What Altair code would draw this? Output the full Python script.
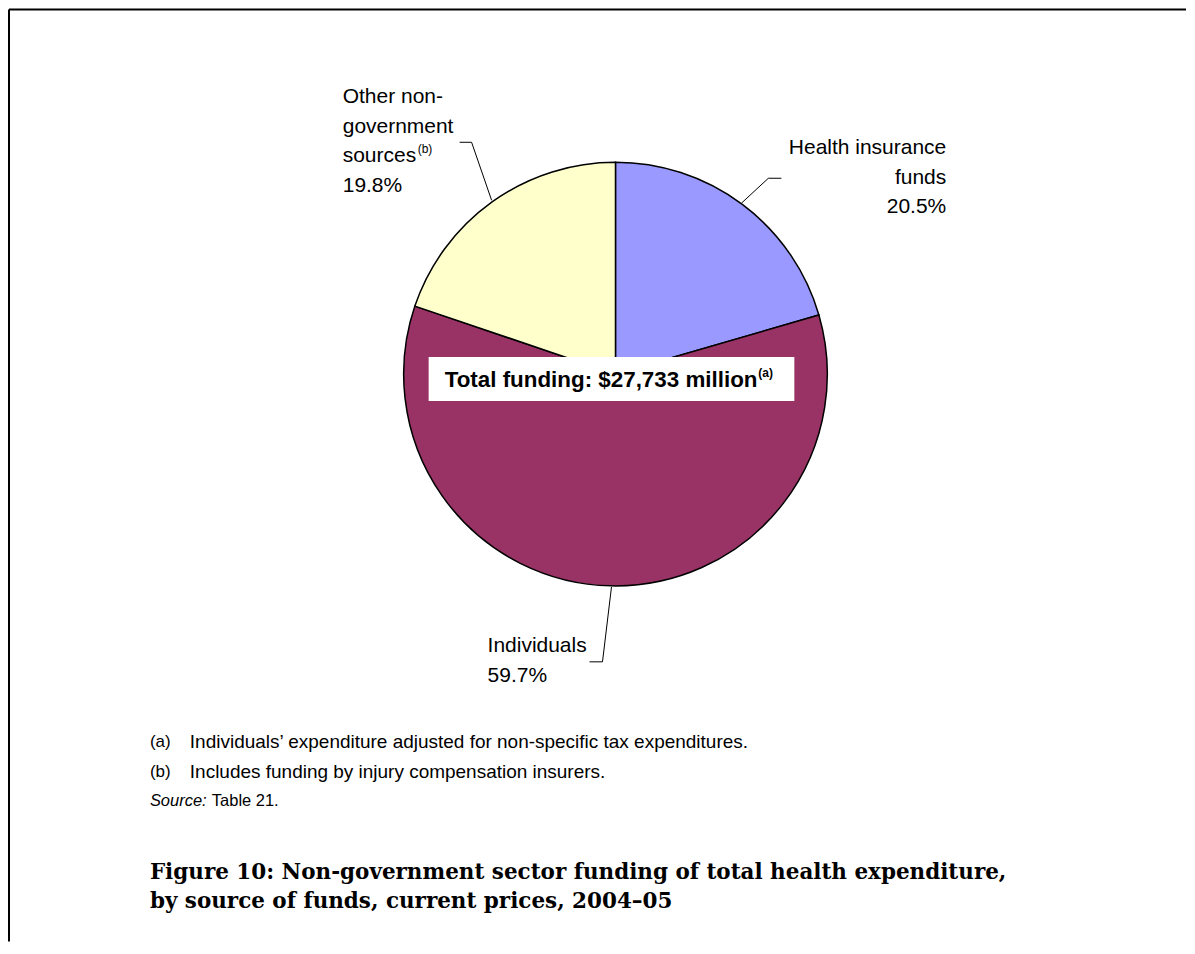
import altair as alt
import pandas as pd

# ---- data ----
categories = ["Health insurance funds", "Individuals", "Other non-government sources"]
shares = [20.5, 59.7, 19.8]
slice_order = [0, 1, 2]
colors = ["#9999FF", "#993366", "#FFFFCC"]

label_other = ["Other non-", "government", "sources", "19.8%"]
label_health = ["Health insurance", "funds", "20.5%"]
label_indiv = ["Individuals", "59.7%"]
box_text = "Total funding: $27,733 million"
footnotes = ["Individuals\u2019 expenditure adjusted for non-specific tax expenditures.",
             "Includes funding by injury compensation insurers."]
foot_marks = ["(a)", "(b)"]
title_lines = ["Figure 10: Non-government sector funding of total health expenditure,",
               "by source of funds, current prices, 2004\u201305"]

df = pd.DataFrame({"category": categories, "share": shares, "idx": slice_order})

W, H = 1179, 934
SANS = "Liberation Sans"
SERIF = "DejaVu Serif"


def P(x, y):
    # page coordinate -> chart coordinate (8px page margin)
    return x - 8, y - 8


cx, cy = P(616, 374)
pie = alt.Chart(df).mark_arc(radius=212, stroke="black", strokeWidth=1.5).encode(
    theta=alt.Theta("share:Q", stack=True),
    color=alt.Color("category:N", scale=alt.Scale(domain=categories, range=colors), legend=None),
    order=alt.Order("idx:Q"),
    x=alt.value(cx), y=alt.value(cy),
)

layers = [pie]
base = alt.Chart(pd.DataFrame({"a": [0]}))


def text(s, x, y, size=21, align="left", weight="normal", font=SANS, style="normal", baseline="middle"):
    px, py = P(x, y)
    return base.mark_text(text=s, fontSize=size, align=align, baseline=baseline, font=font,
                          fontWeight=weight, fontStyle=style, color="black").encode(
        x=alt.value(px), y=alt.value(py))


def seg(x1, y1, x2, y2, w=1.0):
    a, b = P(x1, y1)
    c, d = P(x2, y2)
    return base.mark_rule(color="black", strokeWidth=w).encode(
        x=alt.value(a), y=alt.value(b), x2=alt.value(c), y2=alt.value(d))


# frame
layers.append(base.mark_rule(color="black", strokeWidth=2).encode(
    x=alt.value(1), x2=alt.value(W), y=alt.value(1)))
layers.append(base.mark_rule(color="black", strokeWidth=2).encode(
    x=alt.value(1), y=alt.value(1), y2=alt.value(H)))

# labels
for i, s in enumerate(label_other):
    layers.append(text(s, 343, 97 + 29.5 * i))
layers.append(text("(b)", 418, 149, size=12))
for i, s in enumerate(label_health):
    layers.append(text(s, 947, 148 + 29.5 * i, align="right"))
for i, s in enumerate(label_indiv):
    layers.append(text(s, 488, 646 + 30 * i))

# leader lines
layers += [seg(460, 142, 472, 142), seg(472, 142, 492, 200),
           seg(769, 178, 782, 178), seg(769, 178, 742, 203),
           seg(612, 587, 603, 662), seg(603, 662, 590, 662)]

# total funding box
bx1, by1 = P(429, 357)
bx2, by2 = P(795, 401)
layers.append(base.mark_rect(color="white").encode(
    x=alt.value(bx1), x2=alt.value(bx2), y=alt.value(by1), y2=alt.value(by2)))
layers.append(text(box_text, 445, 380, size=22.4, weight="bold"))
layers.append(text("(a)", 759, 373, size=12, weight="bold"))

# footnotes
for i, (m, s) in enumerate(zip(foot_marks, footnotes)):
    layers.append(text(m, 150, 742 + 30 * i, size=17))
    layers.append(text(s, 190, 742 + 30 * i, size=19))
layers.append(text("Source:", 150, 801, size=16.5, style="italic"))
layers.append(text("Table 21.", 212, 801, size=16.5))

# title
for i, s in enumerate(title_lines):
    layers.append(text(s, 150, 873 + 29 * i, size=21.5, weight="bold", font=SERIF))

chart = alt.layer(*layers).properties(width=W, height=H, padding=0).configure_view(stroke=None)
chart.save("out.html", embed_options={"renderer": "svg", "actions": False})
